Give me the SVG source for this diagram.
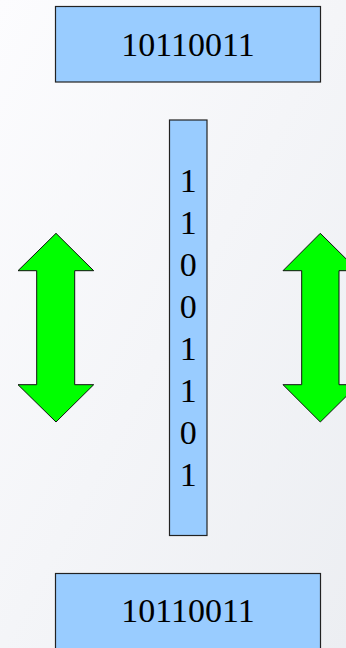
<svg xmlns="http://www.w3.org/2000/svg" width="346" height="648" viewBox="0 0 346 648">
<defs>
<linearGradient id="bg" x1="0" y1="0" x2="1" y2="1">
<stop offset="0" stop-color="#fcfcfe"/>
<stop offset="1" stop-color="#eceef2"/>
</linearGradient>
</defs>
<style>
.box{fill:#99ccff;stroke:#222;stroke-width:1.2}
.arrow{fill:#00ff00;stroke:#111;stroke-width:1}
.t{font-family:"Liberation Serif","Times New Roman",serif;font-size:34px;fill:#000;text-anchor:middle}
</style>
<rect x="0" y="0" width="346" height="648" fill="url(#bg)"/>
<g id="top-box">
<rect class="box" x="55.5" y="6.5" width="265" height="75.5"/>
<text class="t" x="188" y="56">10110011</text>
</g>
<g id="column">
<rect class="box" x="169.5" y="120" width="37.5" height="415.5"/>
<text class="t" x="188.25" y="192">1</text>
<text class="t" x="188.25" y="234">1</text>
<text class="t" x="188.25" y="276">0</text>
<text class="t" x="188.25" y="318">0</text>
<text class="t" x="188.25" y="360">1</text>
<text class="t" x="188.25" y="402">1</text>
<text class="t" x="188.25" y="444">0</text>
<text class="t" x="188.25" y="486">1</text>
</g>
<g id="left-arrow">
<polygon class="arrow" points="56,233.3 93.7,270.7 74.7,270.7 74.7,384.7 93.7,384.7 56,422 18,384.7 36.7,384.7 36.7,270.7 18,270.7"/>
</g>
<g id="right-arrow">
<polygon class="arrow" points="320.3,233.3 358,270.7 339,270.7 339,384.7 358,384.7 320.3,422 283,384.7 301.7,384.7 301.7,270.7 283,270.7"/>
</g>
<g id="bottom-box">
<rect class="box" x="55.5" y="573.5" width="265" height="75.5"/>
<text class="t" x="188" y="622">10110011</text>
</g>
<g id="connectors"/>
</svg>
